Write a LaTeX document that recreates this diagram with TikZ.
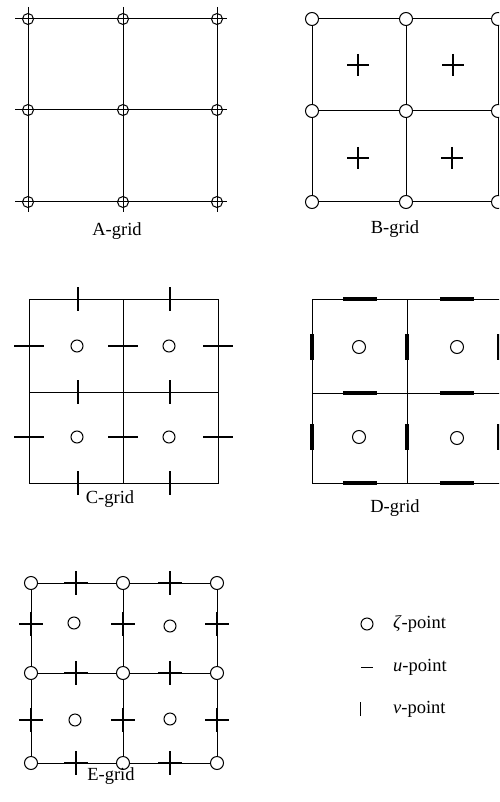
\documentclass[tikz,border=0pt]{standalone}
\usepackage{fontspec}
\setmainfont{Liberation Serif}
\begin{document}
\begin{tikzpicture}[x=1pt,y=-1pt,
  gridline/.style={line width=1pt},
  zpt/.style={circle,draw,fill=white,inner sep=0pt,minimum size=13pt,line width=1pt},
  hollow/.style={circle,draw,inner sep=0pt,minimum size=12pt,line width=1pt},
  tick/.style={line width=2pt},
  bar/.style={line width=3.4pt},
  crossmark/.style={line width=1.6pt},
  legmark/.style={line width=0.8pt},
  lbl/.style={font=\fontsize{18.5}{20}\selectfont,inner sep=0pt}]
\clip (0,0) rectangle (499,802);
\fill[white] (0,0) rectangle (499,802);
% ---------- A-grid ----------
\foreach \y in {19,110,202} \draw[gridline] (15,\y) -- (227,\y);
\foreach \x in {28,123,217} \draw[gridline] (\x,7) -- (\x,212);
\foreach \x/\i in {28/1,123/2,217/3} \foreach \y/\j in {19/1,110/2,202/3}
  \node[hollow,minimum size=11pt] (a\i\j) at (\x,\y) {};
\node[lbl] (alabel) at (117,231) {A-grid};
% ---------- B-grid ----------
\foreach \y in {19,111,202} \draw[gridline] (312,\y) -- (498,\y);
\foreach \x in {312,406,498} \draw[gridline] (\x,19) -- (\x,202);
\foreach \x/\y in {358/65,453/65,358/158,452/158}
  \draw[crossmark] (\x-11,\y) -- (\x+11,\y) (\x,\y-11) -- (\x,\y+11);
\foreach \x/\i in {312/1,406/2,498/3} \foreach \y/\j in {19/1,111/2,202/3}
  \node[zpt] (b\i\j) at (\x,\y) {};
\node[lbl] (blabel) at (395,229) {B-grid};
% ---------- C-grid ----------
\draw[gridline] (29,299) rectangle (218,483);
\draw[gridline] (123,299) -- (123,483) (29,392) -- (218,392);
\foreach \x in {78,170} \foreach \y in {299,392,483}
  \draw[tick] (\x,\y-12) -- (\x,\y+12);
\foreach \x in {29,123,218} \foreach \y in {346,437}
  \draw[tick] (\x-15,\y) -- (\x+15,\y);
\foreach \x/\y/\n in {77/346/1,169/346/2,77/437/3,169/437/4}
  \node[hollow] (c\n) at (\x,\y) {};
\node[lbl] (clabel) at (110,499) {C-grid};
% ---------- D-grid ----------
\draw[gridline] (312,299) rectangle (500,483);
\draw[gridline] (407,299) -- (407,483) (312,393) -- (500,393);
\foreach \x in {360,457} \foreach \y in {299,393,483}
  \draw[bar] (\x-17,\y) -- (\x+17,\y);
\foreach \x in {312,407,499} \foreach \y in {347,437}
  \draw[bar] (\x,\y-13) -- (\x,\y+13);
\foreach \x/\y/\n in {359/347/1,457/347/2,359/437/3,457/438/4}
  \node[hollow,minimum size=13pt] (d\n) at (\x,\y) {};
\node[lbl] (dlabel) at (395,508) {D-grid};
% ---------- E-grid ----------
\foreach \y in {583,673,763} \draw[gridline] (31,\y) -- (217,\y);
\foreach \x in {31,123,217} \draw[gridline] (\x,583) -- (\x,763);
\foreach \x in {76,170} \foreach \y in {583,673,763}
  \draw[crossmark] (\x-12,\y) -- (\x+12,\y) (\x,\y-12) -- (\x,\y+12);
\foreach \x in {31,123,217} \foreach \y in {624,720}
  \draw[crossmark] (\x-12,\y) -- (\x+12,\y) (\x,\y-12) -- (\x,\y+12);
\foreach \x/\i in {31/1,123/2,217/3} \foreach \y/\j in {583/1,673/2,763/3}
  \node[zpt] (e\i\j) at (\x,\y) {};
\foreach \x/\y/\n in {74/623/1,170/626/2,75/720/3,170/719/4}
  \node[hollow] (ec\n) at (\x,\y) {};
\node[lbl] (elabel) at (111,776) {E-grid};
% ---------- legend ----------
\node[hollow] (lz) at (367,624) {};
\node[lbl,anchor=west] (lzt) at (393,624) {\textit{ζ}-point};
\coordinate (lu) at (367,667);
\draw[legmark] ([xshift=-6pt]lu) -- ([xshift=6pt]lu);
\node[lbl,anchor=west] (lut) at (393,667) {\textit{u}-point};
\coordinate (lv) at (360,709);
\draw[legmark] ([yshift=-7pt]lv) -- ([yshift=7pt]lv);
\node[lbl,anchor=west] (lvt) at (393,709) {\textit{v}-point};
\end{tikzpicture}
\end{document}
